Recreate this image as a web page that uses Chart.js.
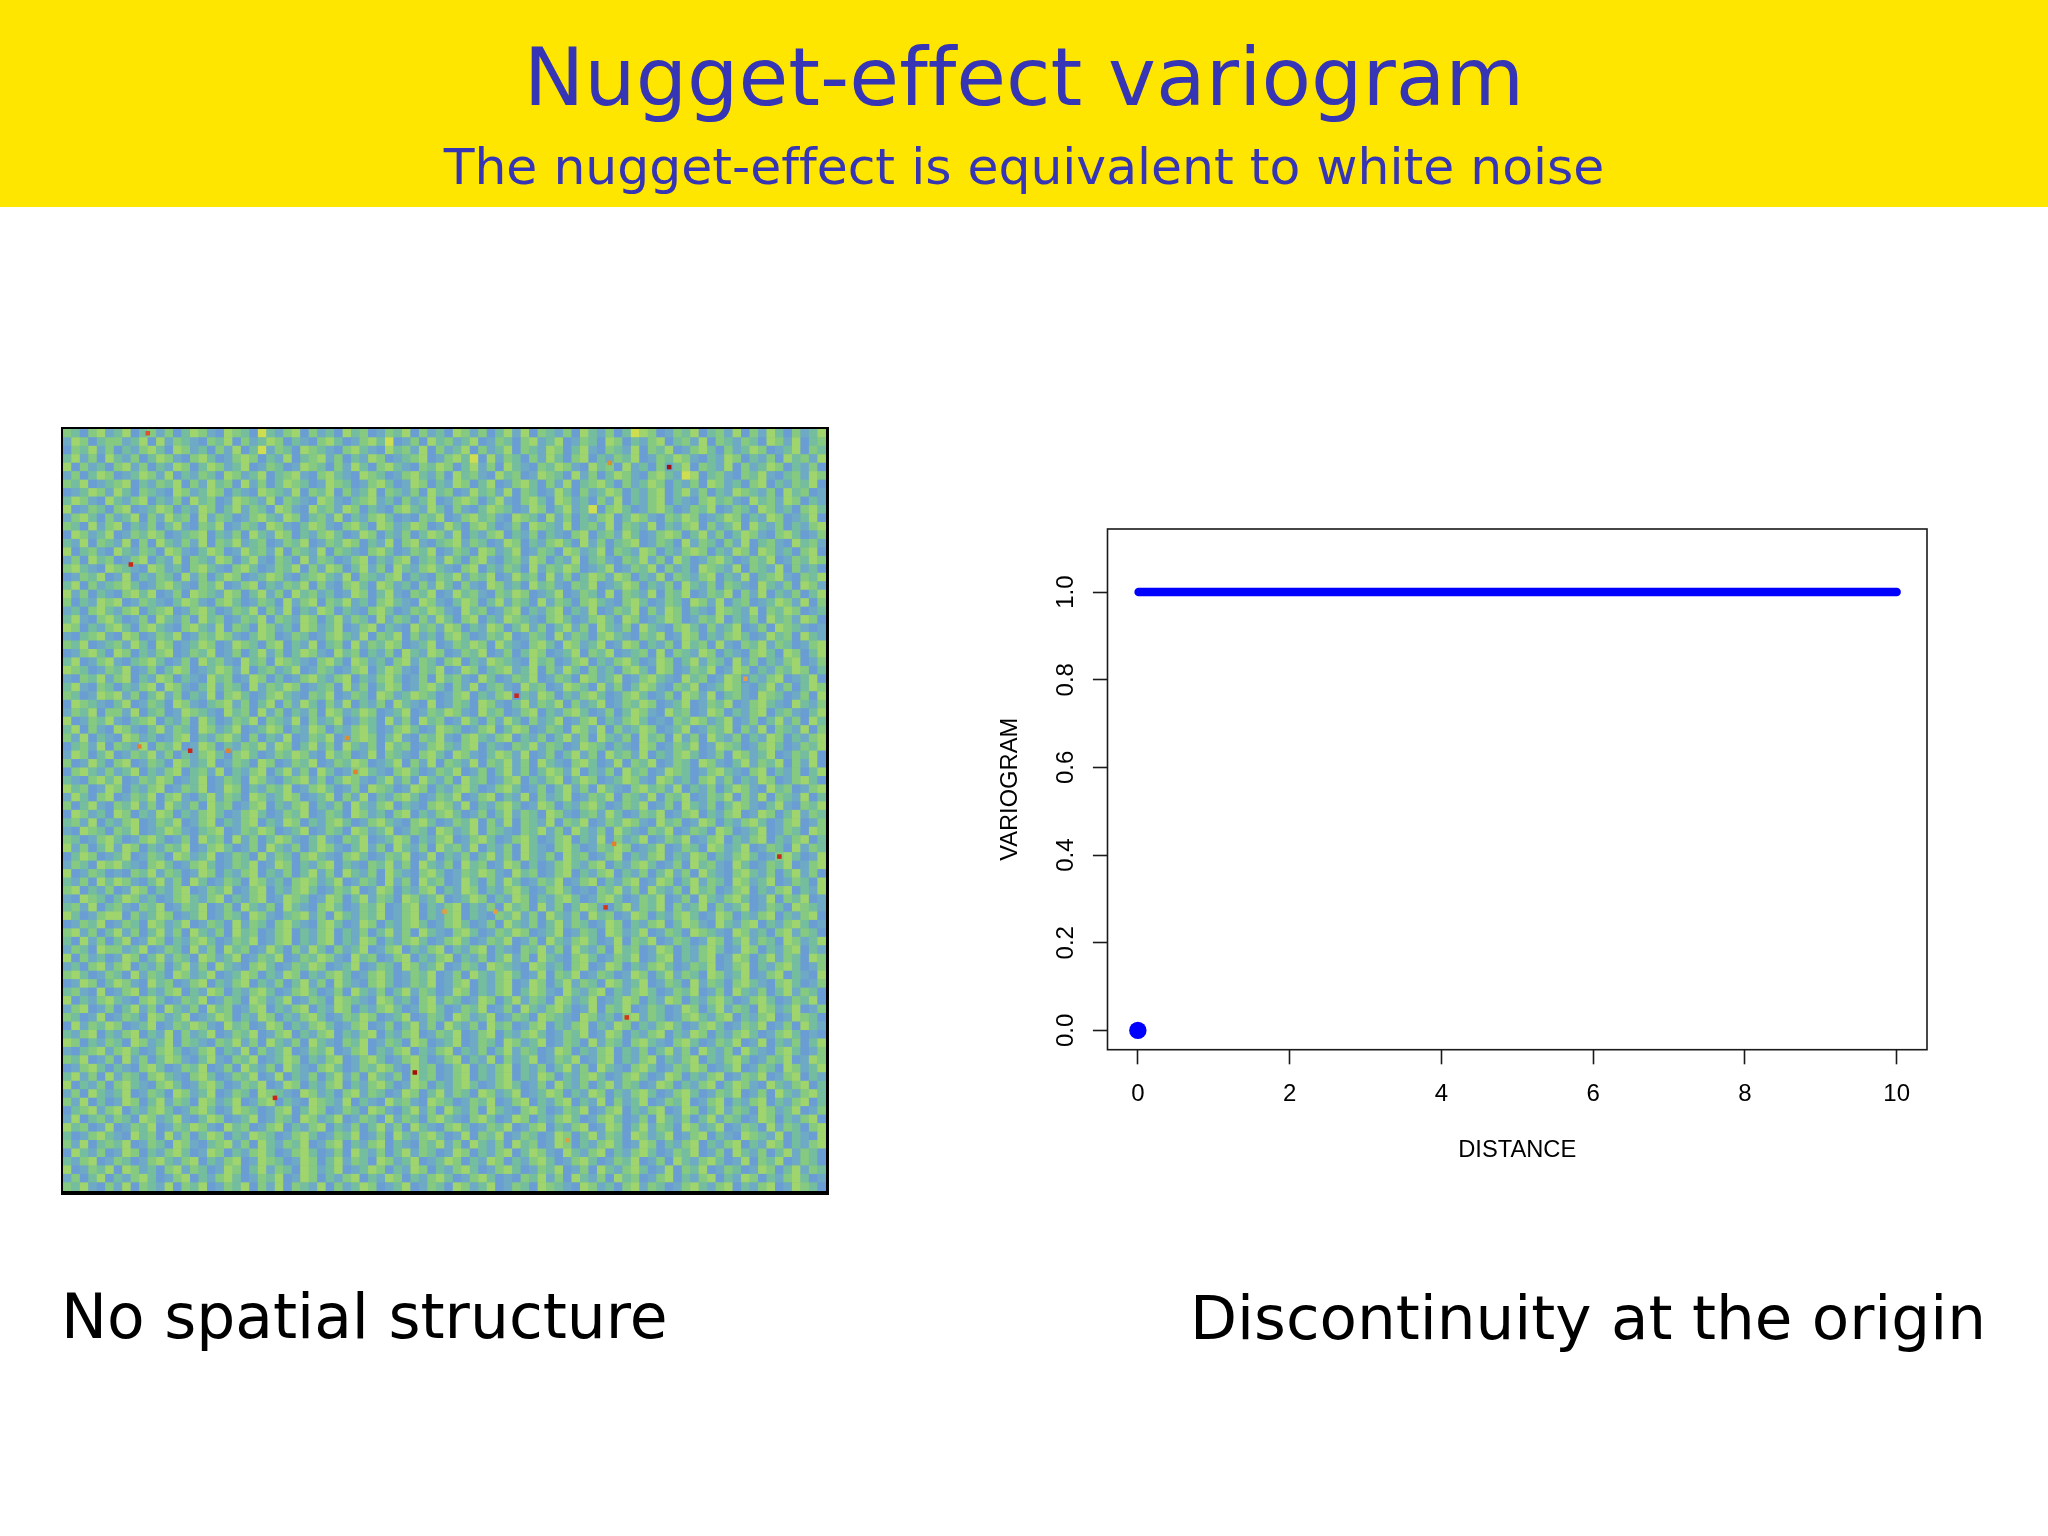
<!DOCTYPE html>
<html>
<head>
<meta charset="utf-8">
<script src="https://cdn.jsdelivr.net/npm/chart.js@4"></script>
<style>
html,body{margin:0;padding:0;background:#fff;}
body{width:2048px;height:1536px;position:relative;overflow:hidden;font-family:"DejaVu Sans";font-variant-ligatures:none;}
#banner{position:absolute;left:0;top:0;width:2048px;height:207px;background:#ffe600;}
.txt{position:absolute;white-space:nowrap;line-height:1;transform:translateY(-50%);}
#title{left:0;width:2048px;text-align:center;top:77px;font-size:81px;color:#3535b5;}
#subtitle{left:0;width:2048px;text-align:center;top:167px;font-size:50.4px;color:#3535b5;}
#capL{left:61px;top:1318px;font-size:61.5px;color:#000;}
#capR{right:62px;top:1318px;font-size:61.2px;color:#000;}
#noiseWrap{position:absolute;left:61px;top:427px;width:763px;height:762px;background:#74b3a4;border-style:solid;border-color:#000;border-width:2px 3px 4px 2px;}
#varioWrap{position:absolute;left:960px;top:500px;width:1000px;height:700px;}
</style>
</head>
<body>
<div id="banner"></div>
<div class="txt" id="title">Nugget-effect variogram</div>
<div class="txt" id="subtitle">The nugget-effect is equivalent to white noise</div>
<div id="noiseWrap"><canvas id="noise"></canvas></div>
<div id="varioWrap"><canvas id="vario"></canvas></div>
<div class="txt" id="capL">No spatial structure</div>
<div class="txt" id="capR">Discontinuity at the origin</div>
<script>
// variogram
const lineDist = [0.01, 10]
const lineGamma = [1, 1]
const originDist = [0]
const originGamma = [0]
const xTicks = [0, 2, 4, 6, 8, 10]
const yTicks = [0, 0.2, 0.4, 0.6, 0.8, 1.0]

// left panel colours, one per class digit in noiseRows
const noiseColors = ['#6a9dd4', '#6eaac5', '#74bd9f', '#85ca80', '#a0d46c', '#cede50', '#4ab8d8']

// hand-typed estimate of the noise texture on a coarse 90x90 grid,
// not a cell by cell reading of the reference
const noiseRows = [
'320341240231302431043205213403120423013240312043130241403213042130254301324023140314203124',
'143023312404132103240312430210342013425013042312401320341240132043021340231403213204314023',
'032413021342043120314025132043210342104231403124031240321430241032140324013420312430124032',
'241304213024310342013430214023413021430123401342504132031420340213240132431021430213042314',
'403120341302143024312401320143203142034210324302413042103243104230412031240321403124302130',
'130243012431402132043124023410342104320134213042310423014320413024310342154023103241023143',
'324012340213240314230413024320143201342014302143024013420314023420312430213043120340213240',
'012431420321043124302104321403240312403213042301423140320142031243021340241302143213042301',
'243104213402130423014321403210431023412031240134302410342043120314021340210342310423143021',
'401320340124302143024132043104231430210342142031024320143024125034201342013240132043120342',
'134203124031423041320134214302314021342010324013423104320413021340243103243012430214301240',
'320413402130241032401320431024310342043124301420342013043214023140321402134031240421302134',
'043124013243012340213042143021342014302130243140213402130210340231420134302413024310342013',
'214032140304213140324123013240132430214034102341320143021342041302340132041320314023104231',
'402310421320431024301423140321403210342013240132043124013204312403214302134302143043120340',
'130423013402140321430241032041320134021340231420341023143021402310324130420134201324013243',
'342104321043120342103420132403143024130421342103402132041324301240132403120432140321403120',
'013240140213204130243012431023421403213402103241324014230413024314302140321340214023410324',
'240312342013421032401340213240310342043120314203104312042310324012430213042130321042130431',
'413021034240130432143024130423120143024103240142310324301240132040321403240132403140213024',
'302143401321024310342013204134032412034210431024302413204132034210342013204314023012431403',
'120342134023401342013240314021430210342013243104230134021340214013240314302104321403243012',
'241034201304213042301324032143024132041320314203402143210342013420430124301324021304231430',
'430213420342103421403204312043124013402104231430214302413024130421304210342031240130432101',
'102341043013240132431024301320134214032403120342013240132041320342103240143021342014230421',
'324012314204301243014320340214023041324301240132430421034204312401430213042304103241320134',
'013420430213401324013024130243104230213042143013240130243012403240123040321430210342043024',
'240134102342013042310423043210342043120341320340214321042301340213420143024132041302134013',
'432013240130243012431402312401320134024310324014302341240314203120342043013240143021324302',
'103241340214302104230143020134213402134201304231042013240132043124013421042301430213401240',
'241032021340431024132041324301230413024301342031402310423014320413024310324012431024130243',
'320143413024130214034201342103240132043124320134021340214302134201342013043140231043201304',
'043210240132043102341302403142031402130421040132043102413240312401324301240132401342104213',
'132403314023014321042304130213043124301240132431042301340213420130243104230143021340231024',
'401324102340213042013240321403124013204130423014203142031240134021342010324312401302413042',
'240310431024132043124012430214302134201342014320134024301320431403124301240132403140321403',
'314021043120134021342030214013240134302410324103421340213024130421304230413042130214302134',
'023140321403240143021324143024130421304230134213402103241320143202104301324014320134201324',
'143024013241302134203420132431042301403210342043102431401302413042314021342013043124013240',
'301420340132043124013204301324013243012403140321403241304210342014032401320431024132403140',
'034213124021340231402134024130420134210342013240130241302431402130423014320134210340213024',
'210342401324301240132043102341302431024130421304230134021340243012431043120341302143013420',
'423014302134013240143021324013420130432014302134201342013024130421034231402130243104230134',
'142034013240341024132043124301240314021342013240134021403124013240321403240132403140321402',
'302410324130421304230134021340213042134021034314021342014302134201324013042130243102410324',
'043120430214302134201342013240132043120340213420130241320431023142013240134021340143024132',
'231402134013240134021340214302134201342103420132403140321403240132431042301430213420134013',
'104320324012431023401324301240132043124013204312403210324130421304210324013204301240132043',
'320134201342013042304130243102410324012430213401342013420134021403124013240134021340213402',
'413024143021324013420130421302431024130421304231402130421034201324301240132043124013204132',
'024301240132043124013204132034210342013240140213024130421304230134021340214302134201342014',
'132043421034201342013240143021340210324130421304230143020134213402134201304231042013240134',
'401320103241320143021340213024130421304210342013243104230134021340213024130421034213024130',
'213042431024130420132043120343124013204130423014203142013240134021340143024132043124013204',
'340213014302134013240134021342013240143021340214302134201342010324130421304230134021340214',
'104320243120134213402134014320143024132043124012430214302134201342013240130421342014032401',
'231402310324013240130421304210342013240134021340213042304130243102413240312403124013204321',
'420134403124301240132043102341304213240134021340210324130421304230143021342014302134021340',
'013240132043124013204132034210342014302134201342013042130241320143021340243104213402134201',
'341302413024130421304230134021340213024130421034201324301240132043124013204321043120341320',
'204130240143021342013240134021340214302134201342013240130421342014032401320143024132043124',
'132043312401320413042301420314203124013402134021340210324130421304230143021342014302134021',
'403120143024132043124013240132431042301340213402130241304210342013240134021340143024132043',
'120341340213024130421034201324301240132043124013204321043120340143021342013240134021342013',
'342013204132043124012430214302134201342013240130421342014032401320143024132043124013402104',
'014302431042301340213402130241304210342013240134021340143024132043124013204132034210342013',
'231040134021340214302134201342013042130241320143021340243104213402134201324013042130241320',
'402134210342013240132043124013204321043120341320143024132043124012430214302134201342013240',
'134013024130421304230134021340214302134201342013240130421342014032401320143024132043124013',
'320140132043124012430214302134201324301240132043124013204321043120341320134213402134014320',
'041324301240132431042301430213420134013024130421304230134021340214302134201342013240130421',
'213402134021403124013240134021340213402134013240134021342013240143021340214302134201342010',
'430213204312403210324130421304210324013204301240132043124013204132034210342013240140213024',
'102341342013420134021403124013240134021340213402130241320143021340213024130421304210342013',
'324013041302431024103240124302134013420134201340214031240132401340213402134021342013240143',
'013420210342013240130421304210342013243104230134021340213024130421034201324301240132043124',
'241304132034210342013240140213024130421304230134021340214302134201342014302134013240134021',
'402130342103420134201324014302134021342014302134201342013042130241320143021340243104213402',
'130421240132043124013204321043120341320143024132043124012430214302134201342013240130421342',
'314020143024132043124013402104321402104231043201324013402134021403124013240134021340213402',
'023413402134201342014320134024301320431024130421304210342013240134021340143024132043124013',
'140231320431241024301240132043124013204132034210342014302134201342013042130241320143021340',
'423014013240132431042301340213402130241304210342013240134021340143024132043124013204132034',
'201342104230413024302143201342013240130421342014032401320143024132043124013402104321402104',
'314023240132043102341304213240134021340210324130421304230143021342014302134021340214302134',
'042130143021342014302134201342013042130241320143021340243104213402134201324013042130241320',
'213401320134213402134014320143024132043124012430214302134201342013240130421342014032401320',
'401324043120341320143024132043124012430214302134201342013240130421342014032401320143024132',
'130240213420134021342013240143021340214302134201342010324130421304230134021340214302134201',
'324103140321403240132403140321403124301240132043124013204321043120341320134213402134014320'
]

// red and orange cells spotted in the left panel, on a 180x180 grid
const hotCols = [143, 16, 30, 107, 169, 128, 83, 50, 133, 130, 20, 67, 69, 39, 129, 102, 90, 119, 161, 18]
const hotRows = [9, 32, 76, 63, 101, 113, 152, 158, 139, 98, 1, 73, 81, 76, 8, 114, 114, 168, 59, 75]
const hotColors = ['#a01010', '#c8281c', '#c8281c', '#c8281c', '#c8281c', '#d03818', '#a01010', '#c8281c', '#d03818', '#e08030',
  '#e0502a', '#d89030', '#e08030', '#e08030', '#d89030', '#e0a040', '#e0a040', '#e0a040', '#e0a040', '#e08030']

const noisePts = []
const noiseCols = []
noiseRows.forEach((row, r) => {
    for (let c = 0; c < row.length; c++) {
        noisePts.push({x: 2 * c + 1, y: 2 * r + 1})
        noiseCols.push(noiseColors[+row[c]])
    }
})

new Chart(document.getElementById('noise'), {
    type: 'scatter',
    data: {
        datasets: [{
            data: hotCols.map((c, i) => ({x: c, y: hotRows[i]})),
            pointStyle: 'rect',
            pointRadius: 3.2,
            pointBorderWidth: 0,
            pointBackgroundColor: hotColors
        }, {
            data: noisePts,
            pointStyle: 'rect',
            pointRadius: 6.2,
            pointBorderWidth: 0,
            pointBackgroundColor: noiseCols
        }]
    },
    options: {
        responsive: true,
        maintainAspectRatio: false,
        animation: false,
        events: [],
        layout: {autoPadding: false},
        scales: {
            x: {display: false, min: 0, max: 180},
            y: {display: false, min: 0, max: 180, reverse: true}
        },
        plugins: {legend: {display: false}, tooltip: {enabled: false}}
    }
})

// closes the R style box around the plot
const boxPlugin = {
    id: 'box',
    afterDatasetsDraw(chart) {
        const a = chart.chartArea
        const ctx = chart.ctx
        ctx.save()
        ctx.strokeStyle = '#1a1a1a'
        ctx.lineWidth = 1.6
        ctx.strokeRect(a.left, a.top, a.right - a.left, a.bottom - a.top)
        ctx.restore()
    }
}

const tickFont = {family: '"Liberation Sans"', size: 24}
const titleFont = {family: '"Liberation Sans"', size: 23.7}

new Chart(document.getElementById('vario'), {
    type: 'scatter',
    data: {
        datasets: [{
            data: originDist.map((d, i) => ({x: d, y: originGamma[i]})),
            pointRadius: 8.7,
            pointBorderWidth: 0,
            pointBackgroundColor: '#0000ff'
        }, {
            data: lineDist.map((d, i) => ({x: d, y: lineGamma[i]})),
            showLine: true,
            borderColor: '#0000ff',
            borderWidth: 8.5,
            borderCapStyle: 'round',
            pointRadius: 0
        }]
    },
    plugins: [boxPlugin],
    options: {
        responsive: true,
        maintainAspectRatio: false,
        animation: false,
        events: [],
        layout: {padding: {left: 0, top: 29, right: 33, bottom: 31}},
        scales: {
            x: {
                type: 'linear',
                min: -0.4,
                max: 10.4,
                afterBuildTicks: s => { s.ticks = xTicks.map(v => ({value: v})) },
                afterFit: s => { s.height = 119.3 },
                grid: {drawOnChartArea: false, tickLength: 14.6, tickColor: '#1a1a1a', tickWidth: 1.6},
                border: {display: false},
                ticks: {font: tickFont, color: '#000', padding: 16, maxRotation: 0},
                title: {display: true, text: 'DISTANCE', font: titleFont, color: '#000', padding: {top: 18}}
            },
            y: {
                min: -0.044,
                max: 1.144,
                afterBuildTicks: s => { s.ticks = yTicks.map(v => ({value: v})) },
                afterFit: s => { s.width = 147.5 },
                grid: {drawOnChartArea: false, tickLength: 14.6, tickColor: '#1a1a1a', tickWidth: 1.6},
                border: {display: false},
                ticks: {
                    font: tickFont,
                    color: '#000',
                    padding: 9.5,
                    minRotation: 90,
                    maxRotation: 90,
                    crossAlign: 'center',
                    callback: v => v.toFixed(1)
                },
                title: {display: true, text: 'VARIOGRAM', font: titleFont, color: '#000', padding: {top: 36.6, bottom: 0}}
            }
        },
        plugins: {legend: {display: false}, tooltip: {enabled: false}}
    }
})
</script>
</body>
</html>
